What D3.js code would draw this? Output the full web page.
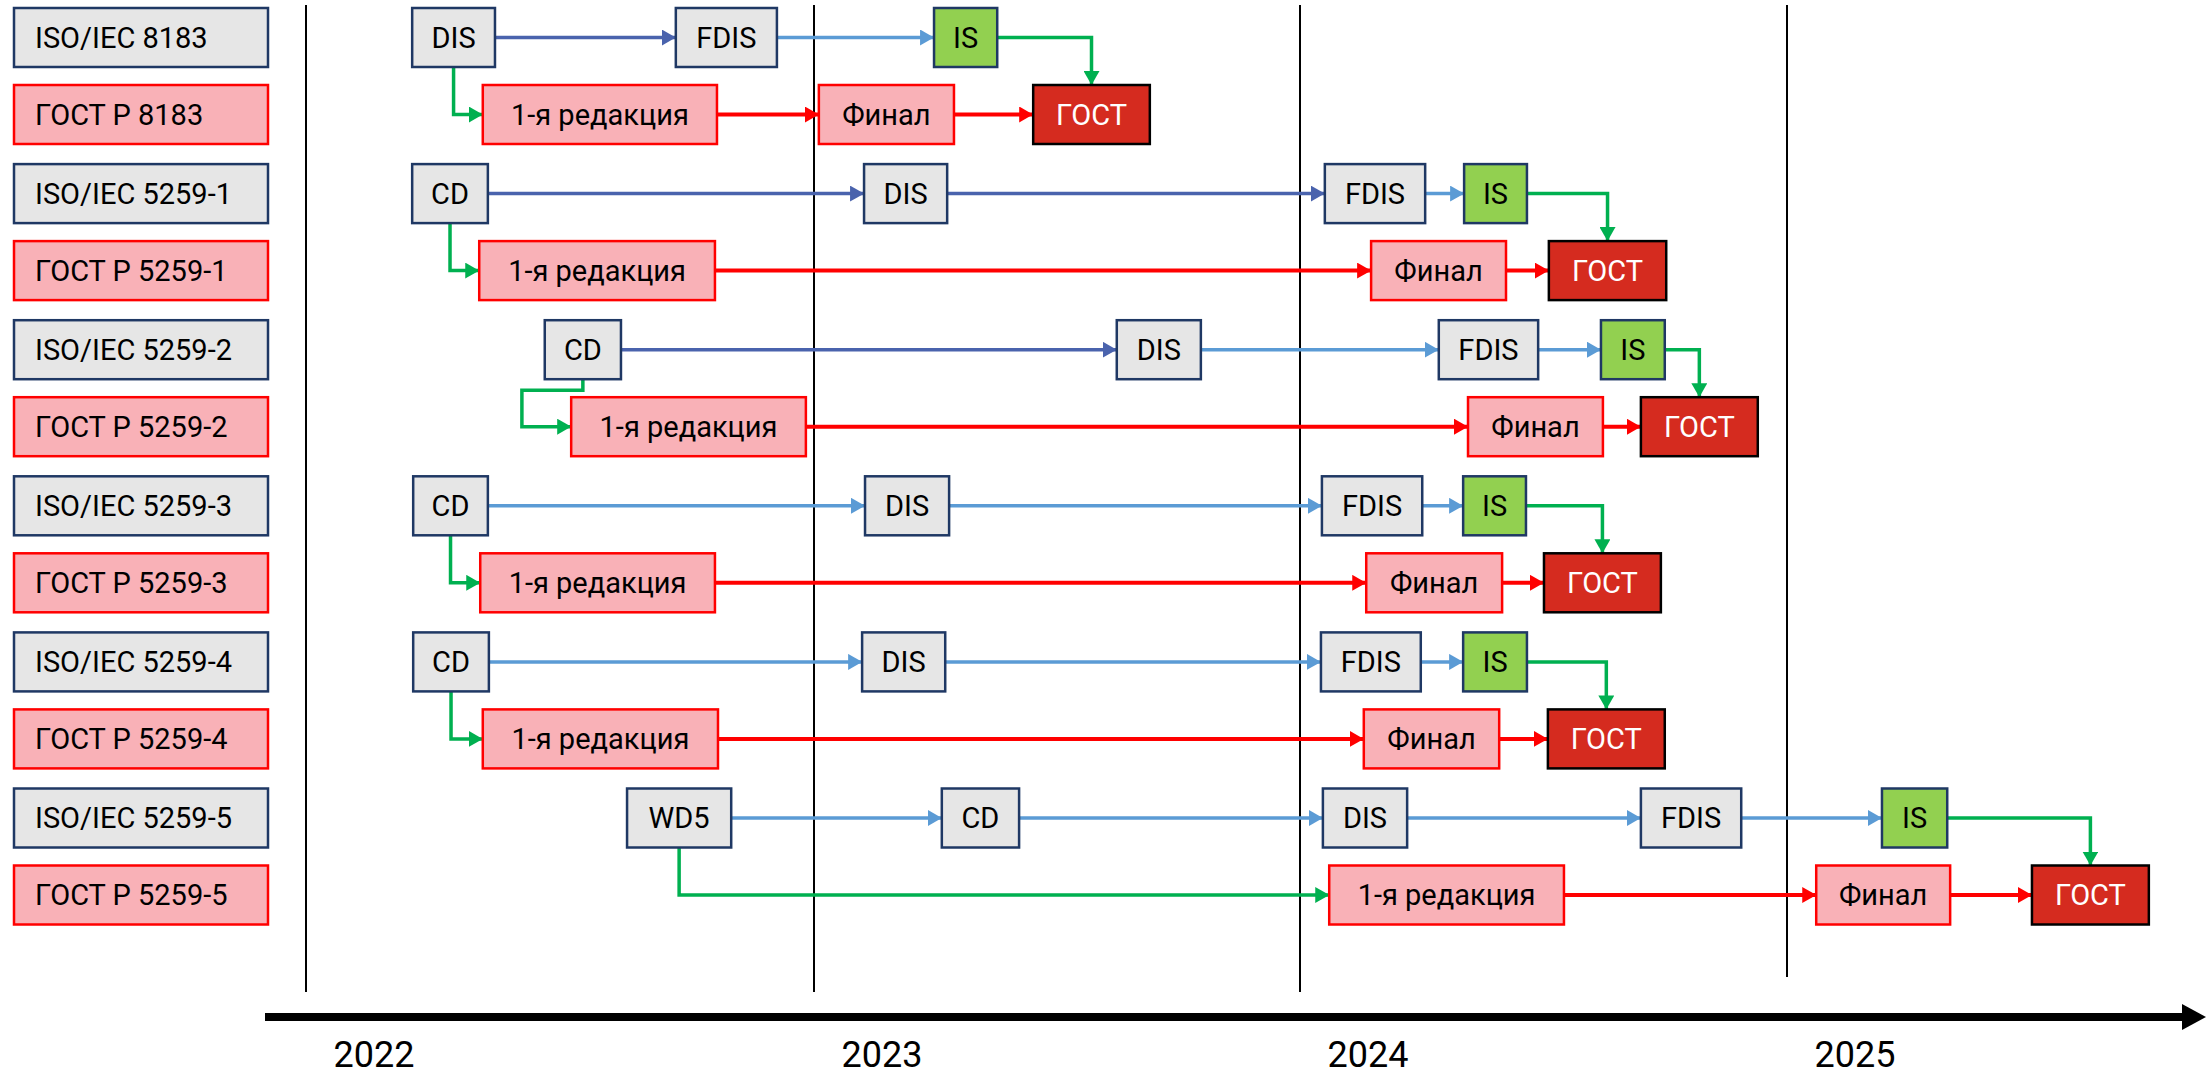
<!DOCTYPE html>
<html><head><meta charset="utf-8">
<script src="https://cdn.jsdelivr.net/npm/d3@7"></script>
<style>html,body{margin:0;padding:0;background:#fff;}svg{display:block}</style>
</head><body>
<svg id="chart" width="2211" height="1077"></svg>
<script>
// ---------------- DATA ----------------
const years = [2022, 2023, 2024, 2025];

const rowLabels = [
  "ISO/IEC 8183", "ГОСТ Р 8183",
  "ISO/IEC 5259-1", "ГОСТ Р 5259-1",
  "ISO/IEC 5259-2", "ГОСТ Р 5259-2",
  "ISO/IEC 5259-3", "ГОСТ Р 5259-3",
  "ISO/IEC 5259-4", "ГОСТ Р 5259-4",
  "ISO/IEC 5259-5", "ГОСТ Р 5259-5"
];

// ISO stages per standard: [stage, start (decimal year), end (decimal year)]
const isoStages = [
  [["DIS", 2022.209, 2022.372], ["FDIS", 2022.728, 2022.927], ["IS", 2023.247, 2023.377]],
  [["CD", 2022.209, 2022.358], ["DIS", 2023.103, 2023.274], ["FDIS", 2024.051, 2024.257], ["IS", 2024.337, 2024.466]],
  [["CD", 2022.470, 2022.620], ["DIS", 2023.623, 2023.796], ["FDIS", 2024.285, 2024.489], ["IS", 2024.618, 2024.749]],
  [["CD", 2022.211, 2022.358], ["DIS", 2023.105, 2023.278], ["FDIS", 2024.045, 2024.251], ["IS", 2024.335, 2024.464]],
  [["CD", 2022.211, 2022.360], ["DIS", 2023.099, 2023.270], ["FDIS", 2024.043, 2024.248], ["IS", 2024.335, 2024.466]],
  [["WD5", 2022.632, 2022.837], ["CD", 2023.263, 2023.422], ["DIS", 2024.047, 2024.220], ["FDIS", 2024.700, 2024.906], ["IS", 2025.195, 2025.329]]
];

// GOST stages per standard
const gostStages = [
  [["1-я редакция", 2022.348, 2022.809], ["Финал", 2023.010, 2023.288], ["ГОСТ", 2023.451, 2023.691]],
  [["1-я редакция", 2022.341, 2022.805], ["Финал", 2024.146, 2024.423], ["ГОСТ", 2024.511, 2024.752]],
  [["1-я редакция", 2022.522, 2022.984], ["Финал", 2024.345, 2024.622], ["ГОСТ", 2024.700, 2024.940]],
  [["1-я редакция", 2022.343, 2022.805], ["Финал", 2024.136, 2024.415], ["ГОСТ", 2024.501, 2024.741]],
  [["1-я редакция", 2022.348, 2022.811], ["Финал", 2024.131, 2024.409], ["ГОСТ", 2024.509, 2024.749]],
  [["1-я редакция", 2024.060, 2024.542], ["Финал", 2025.060, 2025.335], ["ГОСТ", 2025.503, 2025.743]]
];

// tone of each ISO arrow between consecutive stages
const isoArrowTones = [
  ["dark", "light"],
  ["dark", "dark", "light"],
  ["dark", "light", "light"],
  ["light", "light", "light"],
  ["light", "light", "light"],
  ["light", "light", "light", "light"]
];

// green link from first ISO stage to first GOST draft; null = straight elbow, number = detour x (decimal year)
const draftDetour = [null, null, 2022.425, null, null, null];

// ---------------- STYLE ----------------
const C = {
  greyFill: "#E6E6E6", navy: "#1F3864",
  pinkFill: "#F9B1B7", red: "#FF0000",
  gostFill: "#D52B1F", isFill: "#92D050",
  green: "#00B050", dark: "#4A63AD", light: "#5B9BD5"
};
const FONT = "Roboto, 'Noto Sans', sans-serif";
const boxH = 59;

const svg = d3.select("#chart");
const W = 2211, H = 1077;

const x = d3.scaleLinear().domain(years).range([306, 814, 1300, 1787]);
const pairY = d3.scalePoint().domain(d3.range(rowLabels.length / 2)).range([37.5, 818]);
const y = i => pairY(Math.floor(i / 2)) + (i % 2) * 77;

// markers
const defs = svg.append("defs");
function marker(id, color) {
  defs.append("marker").attr("id", id)
    .attr("markerUnits", "userSpaceOnUse")
    .attr("viewBox", "0 0 14 16").attr("refX", 14).attr("refY", 8)
    .attr("markerWidth", 14).attr("markerHeight", 16).attr("orient", "auto")
    .append("path").attr("d", "M0,0L14,8L0,16Z").attr("fill", color);
}
marker("m-dark", C.dark); marker("m-light", C.light); marker("m-red", C.red); marker("m-green", C.green);

// year vertical lines
svg.append("g").selectAll("line").data(years).join("line")
  .attr("x1", d => x(d)).attr("x2", d => x(d))
  .attr("y1", 5).attr("y2", (d, i) => i === years.length - 1 ? 977 : 992)
  .attr("stroke", "#000").attr("stroke-width", 2);

// time axis arrow
svg.append("line").attr("x1", 265).attr("x2", W - 26).attr("y1", 1017).attr("y2", 1017)
  .attr("stroke", "#000").attr("stroke-width", 8);
svg.append("path").attr("d", `M${W - 29},1004L${W - 5},1017L${W - 29},1030Z`).attr("fill", "#000");

svg.append("g").selectAll("text").data(years).join("text")
  .attr("x", d => x(d) + 68).attr("y", 1067)
  .attr("text-anchor", "middle").attr("font-family", FONT).attr("font-size", 36)
  .attr("fill", "#000").text(d => d);

// row label boxes
const lab = svg.append("g").selectAll("g").data(rowLabels).join("g")
  .attr("transform", (d, i) => `translate(14,${y(i) - boxH / 2})`);
lab.append("rect").attr("width", 254).attr("height", boxH)
  .attr("fill", (d, i) => i % 2 ? C.pinkFill : C.greyFill)
  .attr("stroke", (d, i) => i % 2 ? C.red : C.navy).attr("stroke-width", 2.5);
lab.append("text").attr("x", 21).attr("y", boxH / 2).attr("dy", "0.36em")
  .attr("font-family", FONT).attr("font-size", 29).attr("fill", "#000").text(d => d);

// helpers
const linkG = svg.append("g");
const boxG = svg.append("g");

function styleOf(name) {
  if (name === "IS") return { fill: C.isFill, stroke: C.navy, text: "#000" };
  if (name === "ГОСТ") return { fill: C.gostFill, stroke: "#000", text: "#fff" };
  if (name === "1-я редакция" || name === "Финал") return { fill: C.pinkFill, stroke: C.red, text: "#000" };
  return { fill: C.greyFill, stroke: C.navy, text: "#000" };
}

function drawBoxes(stages, row) {
  const g = boxG.append("g");
  const b = g.selectAll("g").data(stages).join("g")
    .attr("transform", d => `translate(${x(d[1])},${y(row) - boxH / 2})`);
  b.append("rect").attr("width", d => x(d[2]) - x(d[1])).attr("height", boxH)
    .attr("fill", d => styleOf(d[0]).fill).attr("stroke", d => styleOf(d[0]).stroke)
    .attr("stroke-width", 2.5);
  b.append("text").attr("x", d => (x(d[2]) - x(d[1])) / 2).attr("y", boxH / 2).attr("dy", "0.36em")
    .attr("text-anchor", "middle").attr("font-family", FONT).attr("font-size", 29)
    .attr("fill", d => styleOf(d[0]).text).text(d => d[0]);
}

function arrow(pts, color, id, w) {
  linkG.append("path").attr("d", d3.line()(pts)).attr("fill", "none")
    .attr("stroke", color).attr("stroke-width", w).attr("marker-end", `url(#${id})`);
}

isoStages.forEach((stages, k) => {
  const isoRow = 2 * k, gostRow = 2 * k + 1;
  const gs = gostStages[k];
  drawBoxes(stages, isoRow);
  drawBoxes(gs, gostRow);
  // ISO arrows
  for (let i = 0; i < stages.length - 1; i++) {
    const t = isoArrowTones[k][i];
    arrow([[x(stages[i][2]), y(isoRow)], [x(stages[i + 1][1]), y(isoRow)]], C[t], "m-" + t, 3.5);
  }
  // GOST arrows
  for (let i = 0; i < gs.length - 1; i++) {
    arrow([[x(gs[i][2]), y(gostRow)], [x(gs[i + 1][1]), y(gostRow)]], C.red, "m-red", 4);
  }
  // draft link (green)
  const s = stages[0], sx = (x(s[1]) + x(s[2])) / 2, sy = y(isoRow) + boxH / 2;
  const tx = x(gs[0][1]), ty = y(gostRow);
  if (draftDetour[k] == null) {
    arrow([[sx, sy], [sx, ty], [tx, ty]], C.green, "m-green", 3.5);
  } else {
    const mid = (y(isoRow) + y(gostRow)) / 2 + 2;
    const dx = x(draftDetour[k]);
    arrow([[sx, sy], [sx, mid], [dx, mid], [dx, ty], [tx, ty]], C.green, "m-green", 3.5);
  }
  // publish link (green)
  const is = stages[stages.length - 1], gost = gs[gs.length - 1];
  const gx = (x(gost[1]) + x(gost[2])) / 2;
  arrow([[x(is[2]), y(isoRow)], [gx, y(isoRow)], [gx, y(gostRow) - boxH / 2]], C.green, "m-green", 3.5);
});
</script>
</body></html>
